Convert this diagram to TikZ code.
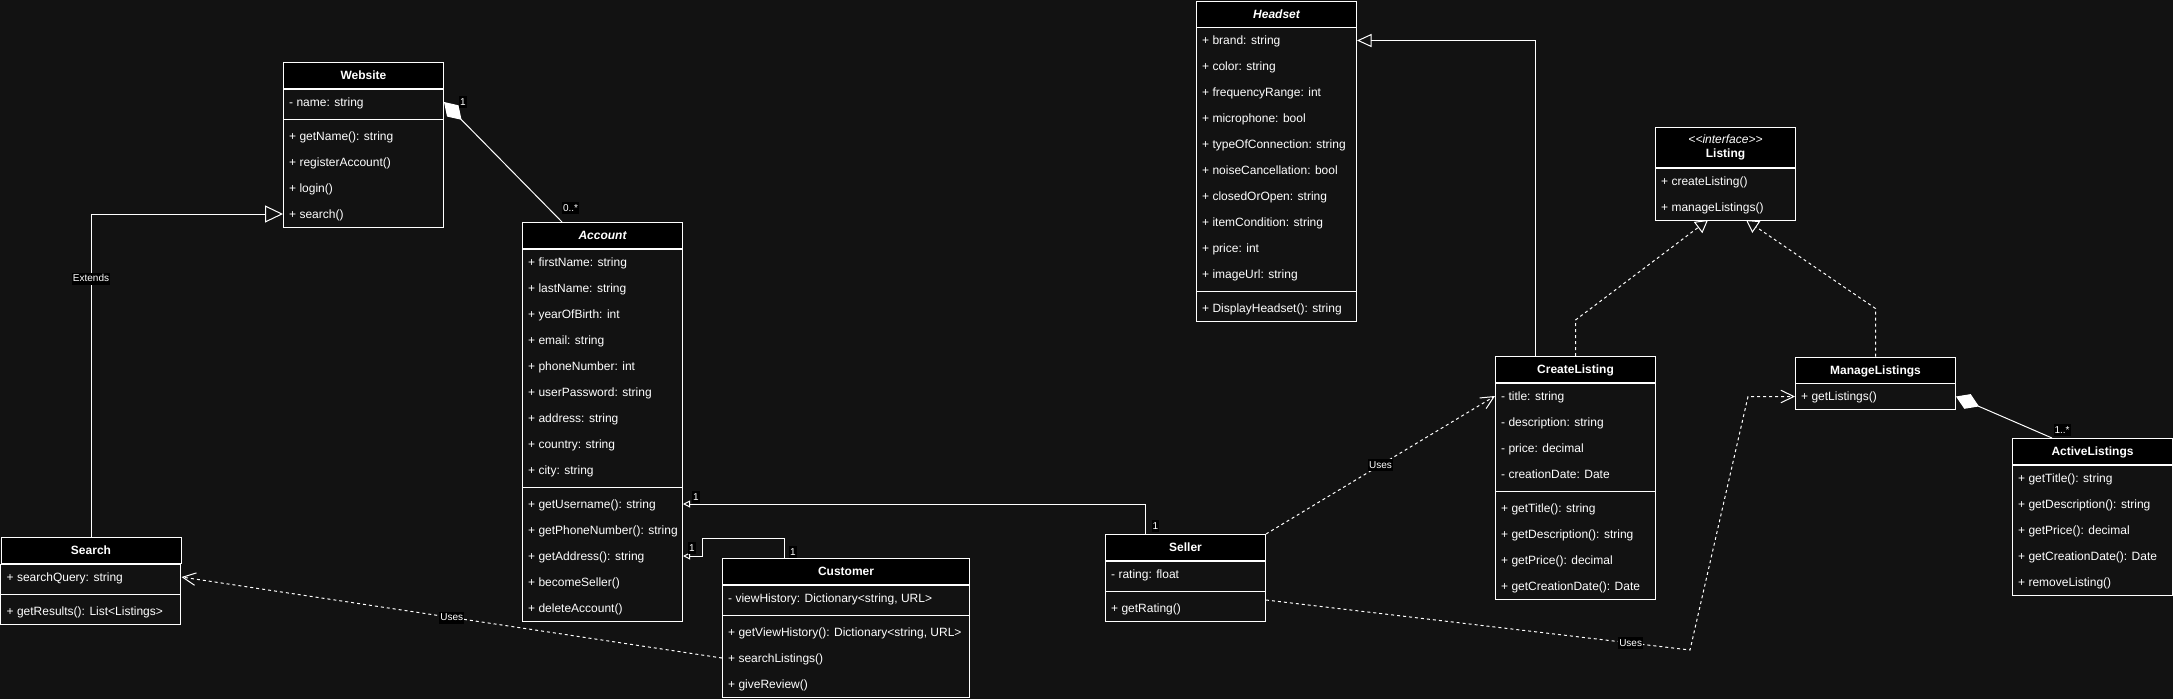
\documentclass[tikz,border=0pt]{standalone}
\usepackage{fontspec}
\setmainfont{Liberation Sans}
\usetikzlibrary{calc,arrows.meta}
\definecolor{canvas}{RGB}{18,18,18}
\def\rowh{26}
% [header options]{name}{x,y}{width}{title}{#attrs}{attrs}{#methods}{methods}
\newcommand\umlclass[9][]{%
  \node[head, minimum width=#4pt, #1] (#2) at (#3) {#5};
  \pgfmathsetmacro\moff{(#6>0)*(\rowh*#6+8)}
  \pgfmathsetmacro\hbody{\moff+\rowh*#8}
  \draw[wire, fill=canvas] (#2.south west) rectangle ++(#4,\hbody);
  \ifnum#6>0
    \draw[wire] ($(#2.south west)+(0,\rowh*#6+4)$) -- ++(#4,0);
    \foreach \t [count=\i] in {#7}
      \node[item] (#2-a\i) at ($(#2.south west)+(6,\rowh*\i-13)$) {\t};
  \fi
  \foreach \t [count=\i] in {#9}
    \node[item] (#2-m\i) at ($(#2.south west)+(6,\moff+\rowh*\i-13)$) {\t};
}
\tikzset{
  wire/.style={draw=white, line width=1pt},
  dep/.style={wire, dash pattern=on 3pt off 3pt},
  head/.style={wire, fill=black, text=white, anchor=north west, inner sep=0pt,
    minimum height=26pt, text height=8.6pt, text depth=0pt,
    font=\bfseries\fontsize{12}{14.3}\selectfont},
  item/.style={anchor=west, text=white, inner sep=0pt, text height=8.6pt,
    text depth=0pt, font=\fontsize{12}{14.3}\selectfont},
  lbl/.style={fill=black, text=white, inner sep=1pt, text height=8pt,
    text depth=2pt, font=\fontsize{10}{12}\selectfont},
  uses/.style={dep, -{Straight Barb[length=13pt,width=12.5pt]}},
  realize/.style={dep, -{Triangle[open,length=12.5pt,width=14pt]}},
  assoc/.style={wire, -{Triangle[open,length=7pt,width=7pt]}},
  whole/.style={wire, {Diamond[length=25pt,width=16pt]}-}
}

\begin{document}
\begin{tikzpicture}[x=1pt,y=-1pt]
  \useasboundingbox (0,0) rectangle (2173,699);
  \fill[canvas] (0,0) rectangle (2173,699);

  %%%%% classes %%%%%
  \umlclass{website}{283,62}{160}{Website}
    {1}{- name: string}
    {4}{+ getName(): string, + registerAccount(), + login(), + search()}
  \umlclass{account}{522,222}{160}{\itshape Account}
    {9}{+ firstName: string, + lastName: string, + yearOfBirth: int,
        + email: string, + phoneNumber: int, + userPassword: string,
        + address: string, + country: string, + city: string}
    {5}{+ getUsername(): string, + getPhoneNumber(): string,
        + getAddress(): string, + becomeSeller(), + deleteAccount()}
  \umlclass{customer}{722,558}{247}{Customer}
    {1}{{- viewHistory: Dictionary<string, URL>}}
    {3}{{+ getViewHistory(): Dictionary<string, URL>}, + searchListings(), + giveReview()}
  \umlclass{search}{0.5,537}{180}{Search}
    {1}{+ searchQuery: string}
    {1}{+ getResults(): List<Listings>}
  \umlclass{headset}{1196,0.5}{160}{\itshape Headset}
    {10}{+ brand: string, + color: string, + frequencyRange: int,
         + microphone: bool, + typeOfConnection: string,
         + noiseCancellation: bool, + closedOrOpen: string,
         + itemCondition: string, + price: int, + imageUrl: string}
    {1}{+ DisplayHeadset(): string}
  \umlclass[minimum height=40pt, align=center, text height=, text depth=]
    {listing}{1655,127}{140}
    {{\normalfont\itshape <{}<interface>{}>}\\Listing}
    {0}{}
    {2}{+ createListing(), + manageListings()}
  \umlclass{createlisting}{1495,356}{160}{CreateListing}
    {4}{- title: string, - description: string, - price: decimal, - creationDate: Date}
    {4}{+ getTitle(): string, + getDescription(): string,
        + getPrice(): decimal, + getCreationDate(): Date}
  \umlclass{managelistings}{1795,356.5}{160}{ManageListings}
    {0}{}
    {1}{+ getListings()}
  \umlclass{activelistings}{2012,438}{160}{ActiveListings}
    {0}{}
    {5}{+ getTitle(): string, + getDescription(): string, + getPrice(): decimal,
        + getCreationDate(): Date, + removeListing()}
  \umlclass{seller}{1105,534}{160}{Seller}
    {1}{- rating: float}
    {1}{+ getRating()}

  \coordinate (lstA) at ($(listing.south west)+(53,52)$);
  \coordinate (lstB) at ($(listing.south west)+(91,52)$);
  \coordinate (usesbend) at (1690,650);

  %%%%% relations %%%%%
  \draw[wire, -{Triangle[open,length=18pt,width=17pt]}] (search.north)
    |- (website.west |- website-m4) node[lbl, pos=0.4]{Extends};
  \draw[whole] (website.east |- website-a1) node[lbl, xshift=19pt]{1}
    -- ($(account.north west)+(40,0)$) node[lbl, xshift=8.5pt, yshift=14pt]{0..*};
  \draw[assoc] ($(seller.north west)+(40,0)$) node[lbl, xshift=10.5pt, yshift=8pt]{1}
    |- (account.east |- account-m1) node[lbl, xshift=13pt, yshift=7pt]{1};
  \draw[assoc] ($(customer.north west)+(62,0)$) node[lbl, xshift=9pt, yshift=6pt]{1}
    |- ($(customer.north west)+(-20,-20)$)
    |- (account.east |- account-m3) node[lbl, xshift=9pt, yshift=8pt]{1};
  \draw[uses] (customer.west |- customer-m2) -- node[lbl]{Uses} (search.east |- search-a1);
  \draw[uses] (seller.north east) -- node[lbl]{Uses} (createlisting.west |- createlisting-a1);
  \draw[uses] ($(seller.south east)+(0,39)$) -- node[lbl, pos=0.86]{Uses} (usesbend)
    -- ($(managelistings.west |- managelistings-m1)+(-47,0)$)
    -- (managelistings.west |- managelistings-m1);
  \draw[wire, -{Triangle[open,length=14.5pt,width=13pt]}]
    ($(createlisting.north west)+(40,0)$) |- (headset.east |- headset-a1);
  \draw[realize] (createlisting.north) -- ++(0,-36) -- (lstA);
  \draw[realize] (managelistings.north) -- ++(0,-48) -- (lstB);
  \draw[whole] (managelistings.east |- managelistings-m1)
    -- ($(activelistings.north west)+(40,0)$) node[lbl, xshift=10pt, yshift=8pt]{1..*};
\end{tikzpicture}
\end{document}
